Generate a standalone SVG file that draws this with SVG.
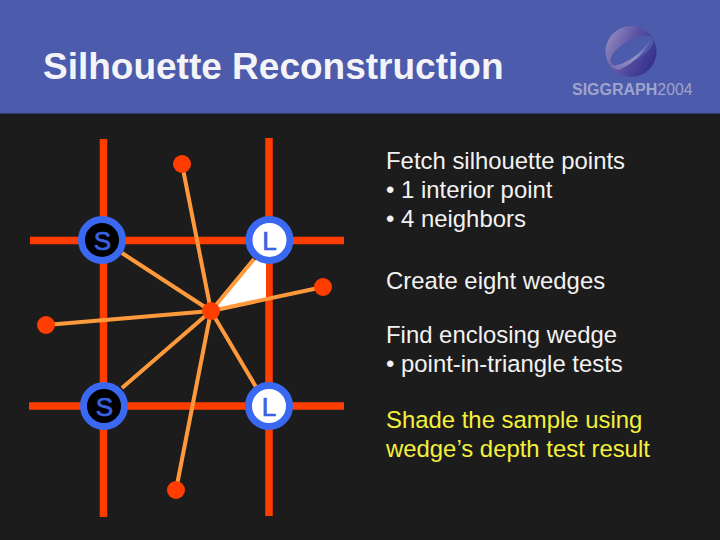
<svg xmlns="http://www.w3.org/2000/svg" width="720" height="540" viewBox="0 0 720 540">
<defs>
<linearGradient id="orb" x1="0" y1="0.3" x2="1" y2="0.8"><stop offset="0" stop-color="#9189bd"/><stop offset="0.4" stop-color="#5f55a6"/><stop offset="1" stop-color="#2e2b8a"/></linearGradient>
<linearGradient id="sw" x1="0" y1="1" x2="1" y2="0"><stop offset="0" stop-color="#7470b2"/><stop offset="0.5" stop-color="#9491c6"/><stop offset="1" stop-color="#5d58a8"/></linearGradient>
</defs>
<style>
.grid{stroke:#ff3d00;stroke-width:7.5;fill:none}
.spoke{stroke:#ff9a3c;stroke-width:4;fill:none}
.pt{fill:#ff3d00}
.ring{stroke:#3a68f0;stroke-width:7}
.lab{font:400 26px "Liberation Sans",Arial,sans-serif;fill:#3a62e0;stroke:#3a62e0;stroke-width:0.7;text-anchor:middle}
.t{font:23.9px "Liberation Sans",Arial,sans-serif;fill:#f2f2f2}
.y{fill:#f4f03c}
</style>
<rect width="720" height="540" fill="#1c1c1c"/>
<rect id="header" width="720" height="113.500" fill="#4c5bab"/>
<text x="43" y="79" style="font:700 37px 'Liberation Sans',Arial,sans-serif;fill:#f4f4f8">Silhouette Reconstruction</text>
<g id="logo">
<circle cx="631" cy="51.500" r="25.500" fill="url(#orb)"/>
<ellipse cx="632" cy="50.500" rx="24" ry="10" transform="rotate(-30 632 50.500)" fill="#4c5bab"/>
<path d="M610 66C624 66 642 54 651 38C647 52 630 66 618 70Z" fill="url(#sw)"/>
<text x="572" y="94.500" style="font:700 16px 'Liberation Sans',Arial,sans-serif;fill:#9ea4ce">SIGGRAPH<tspan style="font:400 15.800px 'Liberation Sans',Arial,sans-serif">2004</tspan></text>
</g>
<g id="connectors">
<path class="grid" d="M103.500 139V517M269 138V516M30 240.500H344M29 406H344"/>
<polygon id="wedge" points="211,311 253,260 266,260 266,299" fill="#fff"/>
<path class="spoke" d="M211 311L182 164M211 311L323 287M211 311L46 325M211 311L176 490M211 311L122 253M211 311L254 259M211 311L122 388M211 311L256 387"/>
</g>
<g id="p-top"><circle class="pt" cx="182" cy="164" r="9"/></g>
<g id="p-right"><circle class="pt" cx="323" cy="287" r="9"/></g>
<g id="p-left"><circle class="pt" cx="46" cy="325" r="9"/></g>
<g id="p-bottom"><circle class="pt" cx="176" cy="490" r="9"/></g>
<g id="p-center"><circle class="pt" cx="211" cy="311" r="9"/></g>
<g id="s-top"><circle class="ring" cx="102" cy="240" r="20.500" fill="#000"/><text class="lab" x="102.500" y="250">S</text></g>
<g id="l-top"><circle class="ring" cx="269.500" cy="240" r="20.500" fill="#fff"/><text class="lab" x="269.500" y="250">L</text></g>
<g id="s-bottom"><circle class="ring" cx="104" cy="406" r="20.500" fill="#000"/><text class="lab" x="104.500" y="416">S</text></g>
<g id="l-bottom"><circle class="ring" cx="269" cy="406" r="20.500" fill="#fff"/><text class="lab" x="269" y="416">L</text></g>
<g id="text">
<text class="t" x="386" y="169">Fetch silhouette points</text>
<text class="t" x="386" y="198">• 1 interior point</text>
<text class="t" x="386" y="227">• 4 neighbors</text>
<text class="t" x="386" y="289">Create eight wedges</text>
<text class="t" x="386" y="343">Find enclosing wedge</text>
<text class="t" x="386" y="372">• point-in-triangle tests</text>
<text class="t y" x="386" y="428">Shade the sample using</text>
<text class="t y" x="386" y="457">wedge’s depth test result</text>
</g>
</svg>
